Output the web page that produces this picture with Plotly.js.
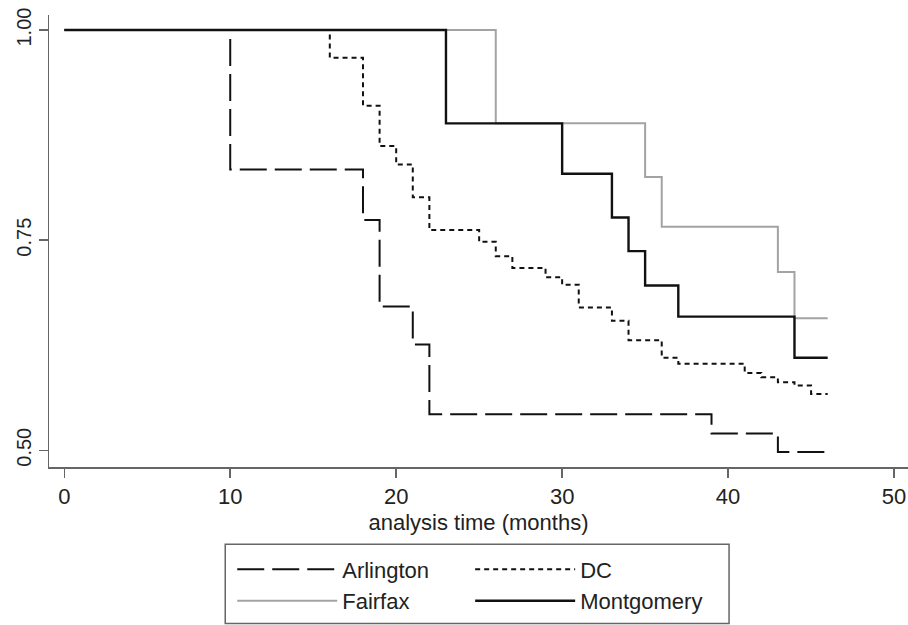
<!DOCTYPE html>
<html>
<head>
<meta charset="utf-8">
<script src="https://cdn.plot.ly/plotly-3.0.1.min.js"></script>
<style>html,body{margin:0;padding:0;background:#fff;}#chart{width:908px;height:625px;}</style>
</head>
<body>
<div id="chart"></div>
<script>
// Kaplan-Meier survival estimates
const arlingtonTime = [0, 10, 18, 19, 21, 22, 39, 43, 46];
const arlingtonSurv = [1, 0.834, 0.774, 0.671, 0.626, 0.543, 0.520, 0.498, 0.498];

const dcTime = [0, 16, 18, 19, 20, 21, 22, 25, 26, 27, 29, 30, 31, 33, 34, 36, 37, 41, 42, 43, 44, 45, 46];
const dcSurv = [1, 0.967, 0.910, 0.862, 0.840, 0.801, 0.762, 0.748, 0.731, 0.717, 0.706, 0.697, 0.670, 0.654, 0.631, 0.610, 0.603, 0.592, 0.587, 0.581, 0.577, 0.567, 0.567];

const fairfaxTime = [0, 26, 35, 36, 43, 44, 46];
const fairfaxSurv = [1, 0.889, 0.825, 0.766, 0.712, 0.657, 0.657];

const montgomeryTime = [0, 23, 30, 33, 34, 35, 37, 44, 46];
const montgomerySurv = [1, 0.889, 0.829, 0.777, 0.737, 0.696, 0.659, 0.610, 0.610];

const xTicks = [0, 10, 20, 30, 40, 50];
const yTicks = [0.5, 0.75, 1.0];
const yTickLabels = ['0.50', '0.75', '1.00'];

const FONT = 'Liberation Sans, Arial, Helvetica, sans-serif';

const traces = [
  {x: arlingtonTime, y: arlingtonSurv, name: 'Arlington', mode: 'lines', legend: 'legend',
   line: {shape: 'hv', color: '#111', width: 2, dash: '27px,8px'}},
  {x: dcTime, y: dcSurv, name: 'DC', mode: 'lines', legend: 'legend2',
   line: {shape: 'hv', color: '#111', width: 2, dash: '5px,4px'}},
  {x: fairfaxTime, y: fairfaxSurv, name: 'Fairfax', mode: 'lines', legend: 'legend',
   line: {shape: 'hv', color: '#a3a3a3', width: 2}},
  {x: montgomeryTime, y: montgomerySurv, name: 'Montgomery', mode: 'lines', legend: 'legend2',
   line: {shape: 'hv', color: '#111', width: 2.4}}
];

const W = 908, H = 625;
const L = 48.7, R = 0, T = 15, B = 158.3;
const pw = W - L - R, ph = H - T - B;
const px2x = p => (p - L) / pw;
const py2y = p => (H - B - p) / ph;

const legendCommon = {
  orientation: 'v', xanchor: 'left', yanchor: 'top',
  bgcolor: 'rgba(0,0,0,0)', borderwidth: 0,
  font: {family: FONT, size: 22, color: '#222'},
  itemwidth: 100, tracegroupgap: 0
};

const layout = {
  width: W, height: H,
  margin: {l: L, r: R, t: T, b: B, pad: 0},
  paper_bgcolor: '#fff', plot_bgcolor: '#fff',
  font: {family: FONT, color: '#222'},
  showlegend: true,
  xaxis: {
    range: [-0.92, 50.84], tickvals: xTicks, showgrid: false, zeroline: false,
    showline: true, linecolor: '#666', linewidth: 1.5,
    ticks: 'outside', ticklen: 9, tickwidth: 1.5, tickcolor: '#666',
    tickfont: {family: FONT, size: 22, color: '#222'},
    title: {text: 'analysis time (months)', font: {family: FONT, size: 22, color: '#222'}, standoff: 6}
  },
  yaxis: {
    range: [0.4801, 1.0179], tickvals: yTicks, ticktext: yTickLabels, showgrid: false, zeroline: false,
    showline: true, linecolor: '#666', linewidth: 1.5,
    ticks: 'outside', ticklen: 9, tickwidth: 1.5, tickcolor: '#666', tickangle: -90,
    tickfont: {family: FONT, size: 20, color: '#222'}
  },
  legend: Object.assign({}, legendCommon, {x: px2x(232), y: py2y(548)}),
  legend2: Object.assign({}, legendCommon, {x: px2x(470), y: py2y(548)}),
  shapes: [{
    type: 'rect', xref: 'paper', yref: 'paper',
    x0: px2x(225), x1: px2x(729), y0: py2y(623), y1: py2y(544),
    line: {color: '#666', width: 1.5}, fillcolor: 'rgba(0,0,0,0)'
  }]
};

Plotly.newPlot('chart', traces, layout, {displayModeBar: false, staticPlot: true});
</script>
</body>
</html>
